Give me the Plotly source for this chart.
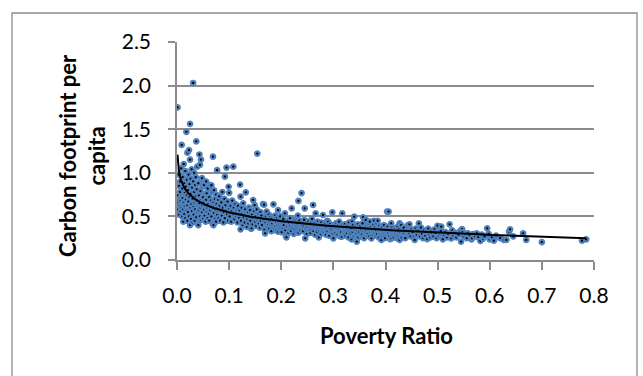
import numpy as np
import plotly.graph_objects as go

# Poverty ratio (x) and carbon footprint per capita (y)
poverty_ratio = [
    0.001, 0.002, 0.002, 0.003, 0.003, 0.004, 0.004, 0.005, 0.005, 0.006, 0.006, 0.007, 0.007, 0.008, 0.008, 0.009, 0.009, 0.010, 0.010, 0.010,
    0.011, 0.011, 0.012, 0.012, 0.013, 0.013, 0.014, 0.014, 0.015, 0.015, 0.016, 0.016, 0.017, 0.017, 0.018, 0.018, 0.019, 0.019, 0.020, 0.020, 0.020,
    0.021, 0.021, 0.022, 0.022, 0.023, 0.023, 0.024, 0.024, 0.025, 0.025, 0.025, 0.026, 0.026, 0.027, 0.027, 0.028, 0.028, 0.029, 0.029, 0.030, 0.030,
    0.031, 0.031, 0.032, 0.032, 0.033, 0.033, 0.034, 0.034, 0.035, 0.035, 0.036, 0.036, 0.037, 0.037, 0.038, 0.038, 0.039, 0.039, 0.040, 0.040,
    0.041, 0.041, 0.042, 0.042, 0.043, 0.043, 0.044, 0.044, 0.045, 0.045, 0.046, 0.046, 0.047, 0.047, 0.048, 0.048, 0.049, 0.049, 0.050, 0.050,
    0.051, 0.052, 0.052, 0.053, 0.054, 0.054, 0.055, 0.056, 0.056, 0.057, 0.057, 0.058, 0.059, 0.059, 0.060,
    0.061, 0.062, 0.062, 0.063, 0.064, 0.064, 0.065, 0.066, 0.066, 0.067, 0.068, 0.068, 0.069, 0.069, 0.070, 0.070,
    0.071, 0.071, 0.072, 0.073, 0.073, 0.074, 0.075, 0.075, 0.076, 0.077, 0.077, 0.078, 0.079, 0.080, 0.080,
    0.081, 0.082, 0.083, 0.084, 0.085, 0.086, 0.087, 0.088, 0.089, 0.090, 0.091, 0.092, 0.092, 0.093, 0.095, 0.095, 0.096, 0.097, 0.098, 0.099, 0.100, 0.100,
    0.101, 0.103, 0.104, 0.105, 0.106, 0.108, 0.108, 0.109, 0.110, 0.112, 0.113, 0.114, 0.115, 0.116, 0.117, 0.118, 0.119, 0.120,
    0.121, 0.122, 0.122, 0.123, 0.124, 0.125, 0.126, 0.127, 0.128, 0.129, 0.130, 0.131, 0.132, 0.133, 0.134, 0.135, 0.136, 0.137, 0.138, 0.139, 0.140,
    0.141, 0.142, 0.143, 0.144, 0.145, 0.146, 0.147, 0.148, 0.149, 0.150, 0.151, 0.152, 0.153, 0.154, 0.155, 0.156, 0.157, 0.158, 0.159, 0.160,
    0.161, 0.162, 0.163, 0.165, 0.166, 0.167, 0.168, 0.169, 0.170, 0.171, 0.172, 0.173, 0.174, 0.175, 0.176, 0.177, 0.178, 0.179, 0.180,
    0.181, 0.182, 0.183, 0.185, 0.186, 0.187, 0.188, 0.189, 0.190, 0.191, 0.192, 0.193, 0.194, 0.194, 0.195, 0.196, 0.197, 0.198, 0.199, 0.200,
    0.201, 0.202, 0.203, 0.204, 0.205, 0.207, 0.208, 0.209, 0.210, 0.211, 0.212, 0.213, 0.214, 0.215, 0.216, 0.217, 0.218, 0.219, 0.220, 0.221,
    0.222, 0.223, 0.224, 0.225, 0.226, 0.227, 0.228, 0.229, 0.230, 0.231, 0.232, 0.233, 0.233, 0.234, 0.235, 0.236, 0.237, 0.238, 0.239, 0.240,
    0.241, 0.242, 0.243, 0.244, 0.245, 0.246, 0.247, 0.248, 0.249, 0.250, 0.252, 0.253, 0.254, 0.255, 0.256, 0.257, 0.258, 0.259, 0.260,
    0.261, 0.262, 0.263, 0.264, 0.265, 0.266, 0.267, 0.268, 0.269, 0.270, 0.271, 0.272, 0.273, 0.274, 0.275, 0.276, 0.277, 0.278, 0.279, 0.280,
    0.281, 0.282, 0.283, 0.284, 0.285, 0.286, 0.287, 0.288, 0.289, 0.290, 0.291, 0.292, 0.293, 0.294, 0.295, 0.296, 0.297, 0.298, 0.299, 0.300,
    0.301, 0.302, 0.303, 0.304, 0.305, 0.306, 0.307, 0.308, 0.309, 0.310, 0.311, 0.312, 0.313, 0.314, 0.315, 0.316, 0.317, 0.318, 0.319, 0.320,
    0.321, 0.322, 0.323, 0.324, 0.325, 0.326, 0.327, 0.328, 0.329, 0.330, 0.331, 0.332, 0.333, 0.334, 0.335, 0.336, 0.337, 0.338, 0.339, 0.340,
    0.341, 0.342, 0.343, 0.344, 0.345, 0.346, 0.347, 0.348, 0.349, 0.350, 0.352, 0.353, 0.354, 0.355, 0.356, 0.357, 0.358, 0.359, 0.360,
    0.361, 0.362, 0.363, 0.364, 0.365, 0.366, 0.367, 0.368, 0.369, 0.370, 0.371, 0.372, 0.373, 0.374, 0.375, 0.376, 0.377, 0.378, 0.379, 0.380,
    0.381, 0.382, 0.383, 0.384, 0.385, 0.386, 0.387, 0.388, 0.389, 0.390, 0.391, 0.392, 0.393, 0.394, 0.395, 0.396, 0.397, 0.398, 0.399, 0.400,
    0.401, 0.402, 0.403, 0.406, 0.404, 0.405, 0.407, 0.408, 0.409, 0.410, 0.411, 0.411, 0.412, 0.413, 0.414, 0.415, 0.416, 0.418, 0.419, 0.420,
    0.421, 0.422, 0.423, 0.424, 0.425, 0.426, 0.427, 0.427, 0.428, 0.429, 0.430, 0.431, 0.432, 0.434, 0.435, 0.436, 0.438, 0.440, 0.443,
    0.445, 0.446, 0.448, 0.450, 0.452, 0.454, 0.456, 0.458, 0.460, 0.462, 0.464, 0.466, 0.468, 0.470, 0.472, 0.474, 0.476, 0.478, 0.480,
    0.482, 0.484, 0.486, 0.488, 0.490, 0.492, 0.494, 0.496, 0.498, 0.500, 0.502, 0.504, 0.506, 0.507, 0.510, 0.512, 0.515, 0.518,
    0.520, 0.523, 0.526, 0.528, 0.530, 0.533, 0.536, 0.540, 0.543, 0.545, 0.547, 0.548, 0.550, 0.553, 0.556, 0.558,
    0.562, 0.565, 0.566, 0.568, 0.572, 0.575, 0.578, 0.582, 0.585, 0.587, 0.590, 0.595, 0.598, 0.600,
    0.604, 0.608, 0.612, 0.620, 0.627, 0.632, 0.637, 0.639, 0.645, 0.664, 0.670, 0.700, 0.777, 0.785,
]
carbon_per_capita = [
    1.75, 0.58, 0.74, 0.98, 0.66, 0.85, 0.52, 0.70, 0.62, 0.90, 0.78, 0.56, 0.68, 1.05, 0.60, 1.32, 0.73, 0.82, 0.64, 0.50,
    0.95, 0.71, 0.44, 0.58, 1.10, 0.66, 0.88, 0.53, 0.77, 0.62, 1.02, 0.48, 0.69, 0.84, 1.47, 0.57, 0.92, 0.74, 1.23, 0.63, 0.45,
    0.80, 0.55, 0.98, 0.67, 1.26, 0.50, 0.72, 0.87, 1.56, 1.15, 0.40, 0.60, 0.93, 0.76, 0.47, 0.64, 1.04, 0.83, 0.56, 0.70, 0.43,
    2.03, 0.90, 0.61, 0.52, 0.78, 1.00, 0.66, 0.45, 0.86, 0.58, 0.73, 0.95, 1.36, 0.49, 0.68, 0.81, 0.55, 1.07, 0.63, 0.41,
    0.40, 0.88, 0.74, 0.57, 1.21, 0.65, 1.09, 0.50, 0.79, 0.60, 1.15, 0.46, 0.70, 0.92, 0.94, 0.55, 0.84, 0.62, 0.72, 0.48,
    0.66, 0.58, 0.86, 0.51, 0.76, 0.62, 0.44, 0.69, 0.90, 0.765, 0.55, 0.60, 0.48, 0.82, 0.64,
    0.53, 0.72, 0.45, 0.61, 0.86, 0.57, 0.68, 0.857, 0.50, 0.63, 0.42, 0.78, 1.185, 0.59, 0.40, 0.66,
    0.80, 0.54, 0.62, 0.47, 0.70, 0.58, 0.75, 0.44, 0.64, 1.03, 0.52, 0.60, 0.69, 0.48, 0.56,
    0.73, 0.62, 0.45, 0.57, 0.66, 0.51, 0.78, 0.60, 0.43, 0.55, 0.70, 0.955, 0.48, 0.63, 1.06, 0.57, 0.52, 0.67, 0.45, 0.84, 0.77, 0.59,
    0.50, 0.62, 0.44, 0.56, 0.68, 1.07, 0.53, 0.60, 0.47, 0.64, 0.55, 0.50, 0.58, 0.43, 0.62, 0.52, 0.48, 0.57,
    0.864, 0.726, 0.352, 0.45, 0.60, 0.53, 0.40, 0.65, 0.49, 0.56, 0.43, 0.58, 0.776, 0.51, 0.38, 0.47, 0.55, 0.42, 0.60, 0.50, 0.573,
    0.45, 0.36, 0.363, 0.52, 0.41, 0.688, 0.48, 0.56, 0.63, 0.44, 0.50, 0.39, 0.58, 1.22, 0.46, 0.53, 0.42, 0.49, 0.37, 0.55,
    0.45, 0.51, 0.40, 0.642, 0.47, 0.634, 0.35, 0.306, 0.43, 0.50, 0.554, 0.38, 0.46, 0.41, 0.52, 0.36, 0.44, 0.49, 0.40,
    0.33, 0.47, 0.42, 0.639, 0.37, 0.45, 0.51, 0.39, 0.34, 0.43, 0.48, 0.40, 0.573, 0.325, 0.45, 0.36, 0.41, 0.50, 0.38, 0.44,
    0.32, 0.42, 0.37, 0.47, 0.40, 0.535, 0.34, 0.275, 0.26, 0.43, 0.38, 0.45, 0.31, 0.41, 0.36, 0.48, 0.39, 0.33, 0.593, 0.43,
    0.37, 0.41, 0.30, 0.46, 0.35, 0.40, 0.44, 0.32, 0.38, 0.42, 0.51, 0.677, 0.313, 0.36, 0.45, 0.39, 0.34, 0.41, 0.768, 0.37,
    0.43, 0.33, 0.39, 0.46, 0.593, 0.249, 0.36, 0.41, 0.30, 0.38, 0.44, 0.34, 0.40, 0.37, 0.31, 0.42, 0.35, 0.47, 0.39,
    0.631, 0.33, 0.38, 0.42, 0.29, 0.535, 0.36, 0.40, 0.32, 0.44, 0.37, 0.26, 0.41, 0.34, 0.39, 0.30, 0.43, 0.36, 0.33, 0.516,
    0.40, 0.35, 0.31, 0.38, 0.42, 0.29, 0.37, 0.45, 0.33, 0.44, 0.39, 0.28, 0.36, 0.41, 0.32, 0.38, 0.35, 0.547, 0.30, 0.249,
    0.40, 0.34, 0.37, 0.31, 0.42, 0.42, 0.36, 0.29, 0.39, 0.33, 0.44, 0.35, 0.27, 0.38, 0.32, 0.267, 0.535, 0.40, 0.36, 0.30,
    0.34, 0.41, 0.28, 0.37, 0.344, 0.31, 0.39, 0.35, 0.26, 0.43, 0.33, 0.38, 0.30, 0.36, 0.237, 0.44, 0.32, 0.40, 0.27, 0.497,
    0.35, 0.29, 0.38, 0.31, 0.21, 0.34, 0.41, 0.26, 0.37, 0.32, 0.39, 0.28, 0.35, 0.30, 0.42, 0.49, 0.33, 0.25, 0.37,
    0.31, 0.46, 0.34, 0.28, 0.39, 0.30, 0.36, 0.42, 0.27, 0.44, 0.33, 0.38, 0.249, 0.31, 0.35, 0.29, 0.40, 0.45, 0.32, 0.37,
    0.28, 0.34, 0.42, 0.30, 0.45, 0.36, 0.26, 0.39, 0.32, 0.35, 0.29, 0.23, 0.38, 0.31, 0.27, 0.34, 0.40, 0.30, 0.25, 0.36,
    0.33, 0.29, 0.555, 0.555, 0.38, 0.31, 0.27, 0.35, 0.24, 0.32, 0.42, 0.249, 0.30, 0.37, 0.28, 0.34, 0.26, 0.31, 0.36, 0.29,
    0.33, 0.25, 0.38, 0.30, 0.27, 0.35, 0.42, 0.23, 0.32, 0.28, 0.40, 0.26, 0.34, 0.29, 0.37, 0.31, 0.25, 0.33, 0.40,
    0.30, 0.409, 0.27, 0.35, 0.32, 0.26, 0.23, 0.36, 0.29, 0.33, 0.42, 0.27, 0.37, 0.30, 0.25, 0.34, 0.28, 0.32, 0.24,
    0.36, 0.29, 0.26, 0.33, 0.30, 0.27, 0.35, 0.31, 0.25, 0.393, 0.28, 0.306, 0.33, 0.382, 0.237, 0.29, 0.32, 0.26,
    0.30, 0.409, 0.249, 0.34, 0.28, 0.31, 0.26, 0.29, 0.33, 0.21, 0.355, 0.32, 0.27, 0.30, 0.25, 0.306,
    0.28, 0.237, 0.249, 0.298, 0.27, 0.306, 0.26, 0.218, 0.29, 0.244, 0.27, 0.363, 0.30, 0.237,
    0.26, 0.221, 0.28, 0.25, 0.23, 0.23, 0.325, 0.352, 0.27, 0.306, 0.23, 0.206, 0.221, 0.237,
]

x_ticks = [0.0, 0.1, 0.2, 0.3, 0.4, 0.5, 0.6, 0.7, 0.8]
y_ticks = [0.0, 0.5, 1.0, 1.5, 2.0, 2.5]

x_title = "Poverty Ratio"
y_title = "Carbon footprint per<br>capita"

# Logarithmic trendline fitted to the data (as the spreadsheet does)
xs = np.array(poverty_ratio)
ys = np.array(carbon_per_capita)
a, b = np.polyfit(np.log(xs), ys, 1)
xt = np.geomspace(xs.min(), xs.max(), 300)
yt = a * np.log(xt) + b

W, H = 643, 376
L, R, T, B = 177, 594, 42, 260

fig = go.Figure()
fig.add_trace(go.Scatter(
    x=poverty_ratio, y=carbon_per_capita, mode="markers",
    marker=dict(size=4.5, color="#000000", line=dict(color="#4F81BD", width=2.2)),
    showlegend=False, hoverinfo="skip",
))
fig.add_trace(go.Scatter(
    x=xt, y=yt, mode="lines", line=dict(color="black", width=2),
    showlegend=False, hoverinfo="skip",
))

def px_x(p):
    return (p - L) / (R - L)

def px_y(p):
    return (B - p) / (B - T)

font = "Lato"
axis_color = "#8c8c8c"

fig.update_layout(
    width=W, height=H,
    margin=dict(l=L, r=W - R, t=T, b=H - B, pad=0),
    paper_bgcolor="white", plot_bgcolor="white",
    font=dict(family=font, size=21, color="black"),
    xaxis=dict(
        range=[0, 0.8], tickvals=x_ticks, ticktext=[f"{v:.1f}" for v in x_ticks],
        showgrid=False, zeroline=False, showline=True, linecolor=axis_color, linewidth=1.5,
        ticks="outside", ticklen=8, tickwidth=1.5, tickcolor=axis_color,
        tickfont=dict(family=font, size=21, color="black"), ticklabelstandoff=8,
    ),
    yaxis=dict(
        range=[0, 2.5], tickvals=y_ticks, ticktext=[f"{v:.1f}" for v in y_ticks],
        showgrid=True, gridcolor=axis_color, gridwidth=1.6,
        zeroline=False, showline=True, linecolor=axis_color, linewidth=1.5,
        ticks="outside", ticklen=7, tickwidth=1.5, tickcolor=axis_color,
        tickfont=dict(family=font, size=21, color="black"), ticklabelstandoff=13,
    ),
    annotations=[
        dict(text=f"<b>{x_title}</b>", xref="paper", yref="paper",
             x=px_x(386), y=px_y(335), xanchor="center", yanchor="middle",
             showarrow=False, font=dict(family=font, size=22, color="black")),
        dict(text=f"<b>{y_title}</b>", xref="paper", yref="paper",
             x=px_x(82), y=px_y(156), xanchor="center", yanchor="middle",
             textangle=-90, showarrow=False,
             font=dict(family=font, size=22, color="black")),
    ],
    shapes=[
        dict(type="rect", xref="paper", yref="paper",
             x0=px_x(12), x1=px_x(637), y0=px_y(385), y1=px_y(13),
             line=dict(color="#8c8c8c", width=1.3), fillcolor="rgba(0,0,0,0)", layer="below"),
    ],
)

fig.write_html("out.html", config={"displayModeBar": False},
               post_script="document.body.style.margin='0px';")
